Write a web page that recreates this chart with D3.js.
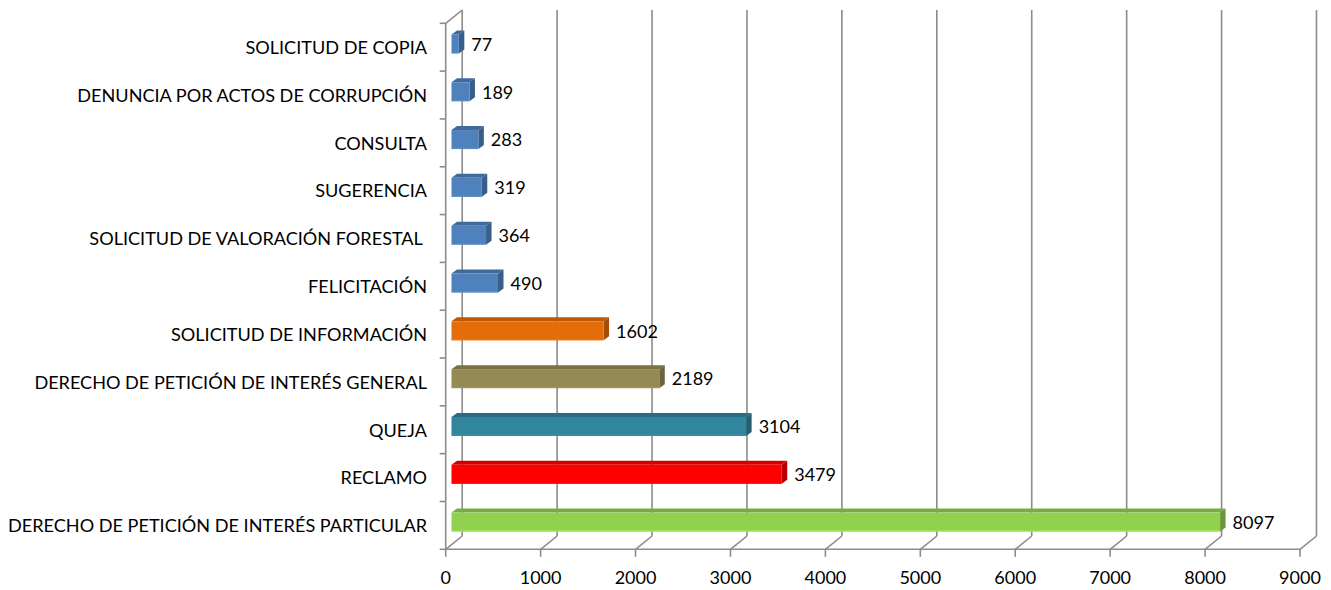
<!DOCTYPE html>
<html>
<head>
<meta charset="utf-8">
<script src="https://cdn.jsdelivr.net/npm/d3@7"></script>
<style>
  html, body { margin: 0; padding: 0; background: #fff; }
  svg { display: block; }
  text { font-family: Lato, "Open Sans", sans-serif; fill: #000; }
</style>
</head>
<body>
<svg id="chart" width="1331" height="590"></svg>
<script>
// Categories, top to bottom
const categories = [
  "SOLICITUD DE COPIA",
  "DENUNCIA POR ACTOS DE CORRUPCIÓN",
  "CONSULTA",
  "SUGERENCIA",
  "SOLICITUD DE VALORACIÓN FORESTAL ",
  "FELICITACIÓN",
  "SOLICITUD DE INFORMACIÓN",
  "DERECHO DE PETICIÓN DE INTERÉS GENERAL",
  "QUEJA",
  "RECLAMO",
  "DERECHO DE PETICIÓN DE INTERÉS PARTICULAR"
];
const values = [77, 189, 283, 319, 364, 490, 1602, 2189, 3104, 3479, 8097];
const barColors = [
  "#4F81BD", "#4F81BD", "#4F81BD", "#4F81BD", "#4F81BD", "#4F81BD",
  "#E46C0A", "#948A54", "#31859C", "#FF0000", "#92D050"
];
const xTicks = [0, 1000, 2000, 3000, 4000, 5000, 6000, 7000, 8000, 9000];

const svg = d3.select("#chart");

// Front plane of the plot
const x = d3.scaleLinear().domain([0, 9000]).range([445.7, 1300]);
const y = d3.scaleBand().domain(categories).range([23.3, 549.3]).padding(0);

// Perspective offset of the back wall and of the bars
const wall = { dx: 16.5, dy: -13.3 };
const barShift = { dx: 5.8, dy: -3.3 };
const depth = { dx: 5.5, dy: -4 };
const barH = 19;
const gridColor = "#8c8c8c";

const grid = svg.append("g").attr("stroke", gridColor).attr("stroke-width", 1.6).attr("fill", "none");

// Back-wall vertical gridlines and floor diagonals
xTicks.forEach(t => {
  const fx = x(t), bx = fx + wall.dx;
  const byBot = y.range()[1] + wall.dy;
  grid.append("line").attr("x1", bx).attr("x2", bx).attr("y1", 10).attr("y2", byBot);
  grid.append("line").attr("x1", fx).attr("y1", y.range()[1]).attr("x2", bx).attr("y2", byBot);
  grid.append("line").attr("x1", fx).attr("x2", fx).attr("y1", y.range()[1]).attr("y2", y.range()[1] + 7.5);
});
// Top-left edge of the side wall
grid.append("line").attr("x1", x(0)).attr("y1", y.range()[0]).attr("x2", x(0) + wall.dx).attr("y2", y.range()[0] + wall.dy);
// Front axes
grid.append("line").attr("x1", x(0)).attr("x2", x(0)).attr("y1", y.range()[0]).attr("y2", y.range()[1]);
grid.append("line").attr("x1", x(0)).attr("x2", x(9000)).attr("y1", y.range()[1]).attr("y2", y.range()[1]);
// Category ticks on the left axis
const bounds = categories.map(c => y(c)).concat([y.range()[1]]);
bounds.forEach(b => {
  grid.append("line").attr("x1", x(0) - 6).attr("x2", x(0)).attr("y1", b).attr("y2", b);
});

// Bars drawn as 3D blocks: front face, top face, side face
const bars = svg.append("g");
categories.forEach((c, i) => {
  const v = values[i];
  const col = d3.color(barColors[i]);
  const x0 = x(0) + barShift.dx;
  const x1 = x(v) + barShift.dx;
  const yc = y(c) + y.bandwidth() / 2 + barShift.dy;
  const yT = yc - barH / 2, yB = yc + barH / 2;
  const g = bars.append("g");
  g.append("polygon")
    .attr("points", [[x0, yT], [x0 + depth.dx, yT + depth.dy], [x1 + depth.dx, yT + depth.dy], [x1, yT]].map(p => p.join(",")).join(" "))
    .attr("fill", col.darker(0.55));
  g.append("polygon")
    .attr("points", [[x1, yT], [x1 + depth.dx, yT + depth.dy], [x1 + depth.dx, yB + depth.dy], [x1, yB]].map(p => p.join(",")).join(" "))
    .attr("fill", col.darker(0.9));
  g.append("rect")
    .attr("x", x0).attr("y", yT).attr("width", x1 - x0).attr("height", barH)
    .attr("fill", col);
  g.append("rect")
    .attr("x", x0).attr("y", yB - 1.5).attr("width", x1 - x0).attr("height", 1.5)
    .attr("fill", col.brighter(0.3)).attr("opacity", 0.6);
  // value label
  svg.append("text")
    .attr("x", x1 + depth.dx + 7)
    .attr("y", yc + 6.8)
    .attr("font-size", 18)
    .text(v);
});

// Category labels
const catG = svg.append("g");
categories.forEach(c => {
  catG.append("text")
    .attr("x", 427)
    .attr("y", y(c) + y.bandwidth() / 2 + 6.8)
    .attr("text-anchor", "end")
    .attr("font-size", 16.2)
    .style("white-space", "pre")
    .text(c);
});
// Fit the longest label to its measured span
const longest = catG.selectAll("text").nodes().reduce((a, n) => n.getComputedTextLength() > a.getComputedTextLength() ? n : a);
const scaleF = 419 / longest.getComputedTextLength();
catG.selectAll("text").attr("font-size", 16.2 * scaleF);

// X tick labels
xTicks.forEach(t => {
  svg.append("text")
    .attr("x", x(t))
    .attr("y", 584)
    .attr("text-anchor", "middle")
    .attr("font-size", 18)
    .text(t);
});
</script>
</body>
</html>
